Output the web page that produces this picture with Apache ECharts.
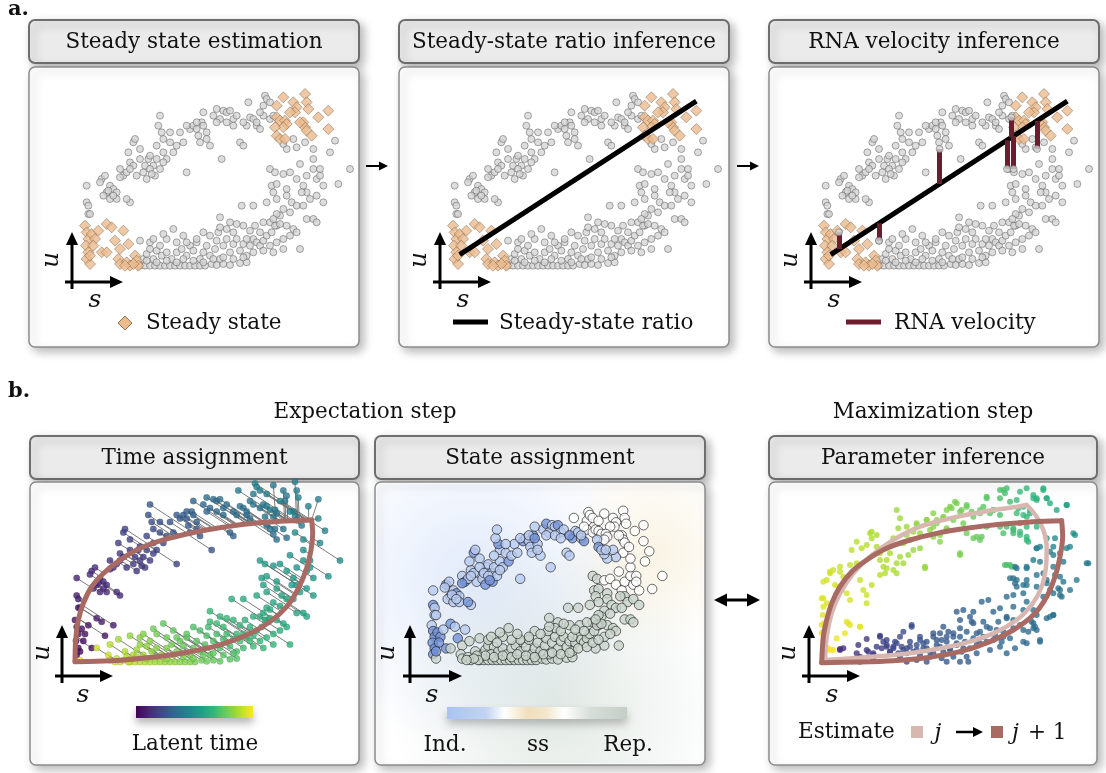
<!DOCTYPE html>
<html><head><meta charset="utf-8">
<script src="https://cdn.jsdelivr.net/npm/echarts@6/dist/echarts.min.js"></script>
<style>html,body{margin:0;padding:0;background:#fff}#c{width:1106px;height:773px}</style>
</head><body><div id="c"></div>
<script>
// ---------------- DATA (s = spliced, u = unspliced; arbitrary units) ----------------
const cloudPoints = [
[17,21],[17.5,20],[17.5,17.5],[18,17.5],[17,26],
[21.5,28],[22.5,29],[24,26],[23,24],[22,23],[25,25],[26,24],[24,22],[26,22],[27,31],[28,29],[29,30],[30,33],[31,32],[29.5,36],[31,39],[31.5,40],[33,37],[32,29],[34,30],[35,28],[35.5,34],[36,35],[37,32],[38,34],[37.5,29],[39,31],[40,36],[41,34],[40,40],[39.5,42],[38.5,44],[39,47],[38,38],[42,39],[43,36],[44,38],[45,42],[46,39],[47,30],[48,43],[49,44],[50,43],[50.5,41],[51,39],[51.5,45],[52,48],[53,42],[54,38],[55,47],[56,49],[57,46],[57.5,34],[58,48.5],[59,48],[60,48.5],[61,46],[62,47],[63,39],[64,38],[65,44],[65.5,51],[66,46.5],[67,46],[68,44],[69,43],[70,50],[70.5,53],[71,52],[70,47],[72,46],[73,47],
[21,27],[23.5,24.5],[25,23],[27,28.5],[30,31],[33,34],[34.5,32],[36,31],[36.5,29.5],[40,33],[42,42],[47,44],[50,45],[52,44],[53,40],[56,45],[59,45],[61,44],[64,45],[68,45],[69,48],[72,51],[30,21],[29,22],
[72,31],[73.5,30],[76,29.5],[78,30],[72.5,26],[74,26.5],[73,24],[77,25],[77,23],[80,28],[81,32.5],[83,29],[82,26],[83,24],[84,22],[86,23],[85,31],[85,34],[87,31],[86,28],[88,26],[88,21],[90,36],[91.5,39.5],[92.5,26.5],[96,31],[82.5,39],[80,37.5],[79,40],[78.5,21],[80,20],[82,20],[83,16],[85,16],[86,15],[76,19],[75,17],[77,14],[79,13],[80,12],[81,7],[76,7],[73,6],[74,14],[72,15],[85,37],[87,29],[81.5,24],[74,22],[78,18],[77,37],[76,38.5],
[33,2],[34.5,2],[36,2],[37.5,2],[39,2],[40.5,2],[42,2],[43.5,2],[45,2],[46.5,2],[48,2],[49.5,2],[51,2],[52.5,2],[54.5,2.5],[56,2.2],[58,2.5],[60,2.2],[63,2.8],[65,3],
[34,4],[35,5.5],[36,7],[38,6.5],[37,4],[39.5,5],[41,6],[42.5,4],[44,6],[45.5,7],[47,5],[48,8],[49,6.5],[50,9],[51,4],[52,6],[53,8],[54,5],[55.5,7],[56,9.5],[57,4],[58,8],[59,10],[60,6],[61,8.5],[62,10],[63,6.5],[64,8.5],[65,5],[66,8],[67,10],[68,9],[69,8],[70,9.5],[71,11],[72.5,12],[73.5,14],[75,14.5],[76,10],[65,10],[64,14],[60,15],[59,13],[57,16.5],[52,12],[50,10],[47,9],[44,9],[41,10],[40,11.5],[43,13],[33,9.5],[36,9],[37,10],[56.5,12],[61,12],[67.5,14],[70,15],[63.5,20],[67,20],[71,21],[74,17.5],
[35,3.5],[38,3],[41,3.5],[44,3],[46,4],[49,3.5],[52,3],[55,4],[58,4.5],[61,4],[64,4.5],[67,6],[70,6.5],[72,8],[74,9],[78,11],[62,14.5],[66,12.5],[54,11],[46,11],[39,8],[57,13.5],[69,12],[73,16]
];
const steadyPoints = [
[16.5,14],[17,12],[17.5,10],[16.8,8],[17.5,6],[17,4],[18,2.5],[18.5,11.5],[19.5,10],[19,8],[20.5,12.5],[23,14.5],[24.5,13.5],[28,12.5],[21.5,6],[23,6],[25.5,9.5],[27,7],[29.5,8.5],[26.5,4],[27,2.5],[29,3],[30,2],[31.5,5],[32,3.5],[32.5,2],[31,2.5],[18,5],[28.5,2],
[76,52.5],[74,50],[79,51],[80,49.5],[82.5,53.5],[83,51],[83.5,49],[79.5,48],[78,48],[74,46.5],[75,45.5],[76.5,45.5],[77,44.5],[76,43.5],[73.5,43.5],[82,45],[82.5,43.5],[83,42.5],[84.5,41],[86.5,46.5],[89.5,48.5],[89.5,43],[74,41],[75,40],[76.5,40],[81,45]
];
const ratioS = [18.5, 89.5];          // extent of steady-state ratio line
const gamma = 0.648, ratioOffset = -6.66;
const velS = [21, 33, 51.2, 71.4, 73.4, 72.7, 80.4];
const velU = [12, 9.5, 37, 31, 31, 46.5, 37];

const b1UpperS = [16.5,16.7,17.5,19,21.5,25,30,36,43,51,59,68,78,87.5];
const b1UpperU = [2.1,8.3,14,18.8,23.5,27.3,31.1,34.5,36.9,38.8,40.2,41.4,42.2,42.6];
const b1LowerS = [16.5,23,31,41,51,60,68,75,80,83.5,86,87.3,87.8,87.5];
const b1LowerU = [2.1,2.2,2.6,3.5,4.95,6.9,9.7,13.5,17.8,23,28.8,34,38.8,42.6];

const b3Points = [
[18.5,28.5],[19,26],[18.8,23.5],[19.2,21],[18.5,18],[19,16],[19.5,14],[20.5,13],[21.5,13],[20,34],[21,36],[22,37],[24,38],[23.5,32],[25,35],[24.5,31],[26,30],[27,28],[26.5,21],[25.5,18],[30,20],[29,39],[30,34],[31,31],[32,27],[33,48],[33.5,46.5],[34,41.5],[35,44],[36,40],[37,38],[37.5,36],[38,40],[39,42],[40,37],[41,39],[42,41],[43,45],[44,50],[45,46],[46,43],[47,51],[48,48],[49.5,37.5],[50,52],[51,49],[52,47],[53,51],[54,45.5],[55,53],[56,49],[57,56],[58,52],[59,57],[60,54.5],[61,51],[60,42],[62,56],[64,53],[65,47],[66,55],[68,50],[69,54],[70,55],[72,50],[73,48],[74,50],[76,49],[78,47.5],[80,46],[77,54],[72,53.5],[56,55],[52,54],[62,48],[66,46],
[68,59],[72,61],[73.5,60],[75,57.5],[79,56],[80,53],[81,54],[82,58.5],[83,58],[85,61],[86,58.5],[87,57],[78,51],[80,50],[76,48],[83,50],
[74,38.5],[75.5,38],[77,37.5],[80,37.5],[82,40],[83,43.5],[84,39.5],[85,36],[86,34],[87,42.5],[88,44],[90,42],[92,56.5],[94,48],[95,34],[98.5,39],[76,34.5],[76.5,33],[77,32],[79,30],[80,34],[83,32],[85,29],[87,31],[88,30],[90,31],[90.5,29],[88,23.5],[87,23],[82,21],[82.5,20],[83,19],[79,25],[76,26],[74,29],[76,22],[90,35],[92,43.5],[93,31],[88,38],[74,23],[72,25.5],[84,16],[80,15],[79,19],
[24,13],[25,13.5],[29,12],[30,11],[32,13],[34,11.5],[35,14],[36,17],[38,16],[39,12.5],[40,14],[41,15],[42,11],[43,13],[44,12],[45,14],[45.5,20],[47,13],[48,11.5],[49,15],[50,13.5],[51,11],[52,12],[53,16],[54,14],[55,20],[56,17],[57,13],[58,11],[59,15],[60,17],[61,13.5],[62,11],[63,23],[64,21],[65,18],[66,15],[67,17],[68,20],[69,13],[70,16],[71,19],[72,14],[73,17],[74,12],[60,22],[61,25],[65,12],[54.5,10.5],[47,10],[44,9.5],[50,9.5],[56,9.5],[60,9.5],[62.5,9.5],[58,18],[52,18],[48,17],[42,17],[38,14],[34,10],[30,9.5],
[24,13.3],[29.5,14.5],[32,16.3],[32.5,12.5],[34,12],[36,17.3],[36.5,13.5],[37,15.5],[38,14.5],[39,12.5],[40,13.5],[40.5,15.5],[41.5,12],[42.5,14],[43,18.5],[44,13.5],[45,15.5],[45.5,20.5],[46,12.5],[47,14.5],[48,16],[49,13.5],[50,15.5],[51,12.5],[52,17],[53,14.5],[54,18],[54.5,16],[55,12.5],[56,15.5],[56.5,18.5],[57,13.5],[58,17],[59,14.5],[60,19.5],[60.5,12.5],[61.5,15.5],[62,18.5],[63,13.5],[63.5,21.5],[64,16.5],[65,14.5],[66,18.5],[66.5,27.5],[67,21.5],[68,15.5],[69,19.5],[70,24.5],[70.5,17.5],[71.5,21.5],[72.5,15.5],[73,18.5],[74,22.5],[75,16.5],[76,19.5],[76.5,13.5],[78,20.5],[79,15.5],[80,27.5],[80.5,18.5],[81.5,21.5],[82,19.5],[83,23.5],[84,15.5],[59,24.5],[64,24.5],[68.5,28],[76,29.5],[79,32.5],[82,25],
[86,22.5],[88,23.5],[90,29.5],[89.5,31.5],[91,33.5],[88.5,35.5],[86,33],[83,35.5],[80,38],[76.5,38],[75,38.5],[73.5,38.5],[75,34.5],[77,34],[80,32.5],[83,43.5],[84,44],[86,46.5],[88,41.5],[88.5,46.5],[91,39.5],[93,44],[94.5,47.5],[98,39],
[92,56.5],[89,55],[86,58.5],[85,61.5],[83,58.5],[82,59.5],[80,61.5],[78,60.5],[77,58],[74,61.5],[73,61],[72,58.5],[70,55],[68,58.5],[67,56],[66,54],[63.5,54.5],[62,56.5],[60.5,55],[58.5,57.5],[57.5,55.5],
[55,52.5],[53,52],[52,50],[50,52],[47,50.5],[46,48.5],[44,47.5],[42,52.5],[41,55],[41.5,49.5],[40,46.5],[38,43.5],[36,42],[35,47.5],[33.5,48.5],[32,44.5],[30.5,43.5],[29,45.5],[27.5,43],[27,38.5],[24,36.5],[22.5,32.5],[21,36.5],[19,33.5],[19,28.5],[20,27],[18.5,20.5],[19,18.5],[20.5,13.5],[22,13],[23,16.5],[26,21.5],[27,20.5],[30,20],[32,29.5],[33.5,32.5],[36,35.5],[38,37.5],[41,36],[43,39],[44.5,41.5],[48,43.5],[49.5,38],[54,47.5],[56,49.5],[60,41.5],[64,46.5],[66.5,47],[76,49.5],[78,48.5],[80,47],[80.5,45.5],[79,53.5],[77.5,55.5],[81,55]
];
const b3BrownUpperS = [18.5,19,20,21.5,24,27.5,32,38,45,53,62,72,82,90.5];
const b3BrownUpperU = [9.2,17,22,27,32,36.5,40,43.5,46,48,49.5,50.7,51.5,51.8];
const b3BrownLowerS = [18.5,30,40,50,60,69,76,82,86,88.5,90,90.8,90.5];
const b3BrownLowerU = [9.2,9.4,9.8,10.7,12.5,15.5,19,23.5,29,35,41,47,51.8];
const b3PinkUpperS = [19.5,20,21.5,24,28,33,40,48,57,67,76,80];
const b3PinkUpperU = [10,17,24,30,36,41,46,50,52.5,54.5,55.8,56.5];
const b3PinkLowerS = [19.5,30,40,50,61,70,77,81.5,84.5,85.8,86,85,83,80];
const b3PinkLowerU = [10,10.7,11.5,12.8,15,18,22,26.5,32,38,44,49,53,56.5];

const titlesTop = ['Steady state estimation','Steady-state ratio inference','RNA velocity inference'];
const titlesBottom = ['Time assignment','State assignment','Parameter inference'];
const legendTop = ['Steady state','Steady-state ratio','RNA velocity'];
const stepLabels = ['Expectation step','Maximization step'];
const stateLabels = ['Ind.','ss','Rep.'];

// ---------------- helpers ----------------
const VIR = ['#440154','#482878','#3e4989','#31688e','#26828e','#1f9e89','#35b779','#6ece58','#b5de2b','#fde725'];
function hex(c){return [parseInt(c.slice(1,3),16),parseInt(c.slice(3,5),16),parseInt(c.slice(5,7),16)];}
function viridis(x){x=Math.max(0,Math.min(1,x));const f=x*(VIR.length-1);const i=Math.min(VIR.length-2,Math.floor(f));const r=f-i;const a=hex(VIR[i]),b=hex(VIR[i+1]);return 'rgb('+a.map((v,k)=>Math.round(v+(b[k]-v)*r)).join(',')+')';}
function lut(t,ts,cs){for(let i=0;i<ts.length-1;i++){if(t<=ts[i+1]){const r=(t-ts[i])/(ts[i+1]-ts[i]);return cs[i]+r*(cs[i+1]-cs[i]);}}return cs[cs.length-1];}
const zip=(S,U)=>S.map((s,i)=>[s,U[i]]);
function buildPath(pts){const cum=[0];for(let i=1;i<pts.length;i++)cum.push(cum[i-1]+Math.hypot(pts[i][0]-pts[i-1][0],pts[i][1]-pts[i-1][1]));return {pts,cum,total:cum[cum.length-1]};}
function assign(p,path,dir){
  const P=path.pts;let best=null,bestAbs=Infinity;
  if(dir){for(let i=0;i<P.length-1;i++){const a=P[i],b=P[i+1];const ex=b[0]-a[0],ey=b[1]-a[1];const den=dir[0]*ey-dir[1]*ex;if(Math.abs(den)<1e-9)continue;const wx=a[0]-p[0],wy=a[1]-p[1];const lam=(wx*ey-wy*ex)/den;const mu=(wx*dir[1]-wy*dir[0])/den;if(mu>=0&&mu<=1&&Math.abs(lam)<bestAbs){bestAbs=Math.abs(lam);const L=path.cum[i+1]-path.cum[i];best={q:[a[0]+mu*ex,a[1]+mu*ey],arc:path.cum[i]+mu*L};}}}
  if(!best){let bd=Infinity;for(let i=0;i<P.length-1;i++){const a=P[i],b=P[i+1];const ex=b[0]-a[0],ey=b[1]-a[1];const l2=ex*ex+ey*ey;let mu=((p[0]-a[0])*ex+(p[1]-a[1])*ey)/l2;mu=Math.max(0,Math.min(1,mu));const q=[a[0]+mu*ex,a[1]+mu*ey];const d=Math.hypot(q[0]-p[0],q[1]-p[1]);if(d<bd){bd=d;best={q,arc:path.cum[i]+mu*(path.cum[i+1]-path.cum[i])};}}}
  best.t=best.arc/path.total;return best;
}

// ---------------- derived ----------------
const bCells = cloudPoints.concat(steadyPoints);
const b1Path = buildPath(zip(b1UpperS,b1UpperU).concat(zip(b1LowerS,b1LowerU).reverse().slice(1)));
const b1Assign = bCells.map(p=>assign(p,b1Path,[1,-0.62]));
const b3Path = buildPath(zip(b3BrownLowerS,b3BrownLowerU).concat(zip(b3BrownUpperS,b3BrownUpperU).reverse().slice(1)));
const b3Assign = b3Points.map(p=>assign(p,b3Path,null));
const b1Col = t=>viridis(lut(t,[0,0.25,0.5,0.75,1],[0,0.22,0.45,0.7,1]));
const b3Col = t=>viridis(lut(t,[0,0.17,0.45,0.52,0.67,0.87,1],[0.1,0.27,0.42,0.62,0.8,0.93,1]));
function stateColor(t,i){ if(t<0.44) return (i%5===0||t<0.06)?'#7392d8':'#b8cbf0'; if(t<0.6) return '#ffffff'; return '#c9d5cc'; }

// ---------------- layout ----------------
const topBoxX=[29,399,769], botBoxX=[30,375,769], botBoxW=[329,330,328];
const aOff=[0,368,739];
const grids=[], xAxes=[], yAxes=[];
aOff.forEach(o=>{grids.push({left:30+o,top:59,width:330,height:290});xAxes.push({min:0,max:99});yAxes.push({min:-23,max:64});});
grids.push({left:20,top:445,width:330,height:304.5});xAxes.push({min:0,max:99});yAxes.push({min:-23,max:64});
grids.push({left:375,top:482,width:330,height:283});xAxes.push({min:-3.05,max:110.7});yAxes.push({min:-34.2,max:63.4});
grids.push({left:760,top:480,width:340,height:290});xAxes.push({min:0,max:102});yAxes.push({min:-23,max:64});
xAxes.forEach((a,i)=>Object.assign(a,{type:'value',gridIndex:i,show:false}));
yAxes.forEach((a,i)=>Object.assign(a,{type:'value',gridIndex:i,show:false}));

const FONT='"DejaVu Serif", serif';
const G=[];
function rbox(x,y,w,h,fill,stroke,lw){G.push({type:'rect',silent:true,z:0,shape:{x,y,width:w,height:h,r:6},style:{fill,stroke,lineWidth:lw,shadowBlur:10,shadowOffsetX:4,shadowOffsetY:4,shadowColor:'rgba(0,0,0,0.28)'}});}
function txt(x,y,text,size,opts){opts=opts||{};G.push({type:'text',silent:true,z:100,x,y,rotation:opts.rot||0,style:{text,x:0,y:0,font:(opts.style||'')+' '+size+'px '+FONT,fill:'#111',textAlign:opts.align||'center',textVerticalAlign:'middle'}});}
function arrow(x1,y1,x2,y2,w,hl,hw){const dx=x2-x1,dy=y2-y1,L=Math.hypot(dx,dy),ux=dx/L,uy=dy/L;const bx=x2-ux*hl,by=y2-uy*hl;G.push({type:'line',silent:true,z:100,shape:{x1,y1,x2:bx+ux,y2:by+uy},style:{stroke:'#000',lineWidth:w}});G.push({type:'polygon',silent:true,z:100,shape:{points:[[x2,y2],[bx-uy*hw/2,by+ux*hw/2],[bx+uy*hw/2,by-ux*hw/2]]},style:{fill:'#000'}});}
function axesGlyph(vx,vTop,vBot,hy,hL,hR,ux,uy,sx,sy){arrow(vx,vBot,vx,vTop,3,13,12);arrow(hL,hy,hR,hy,3,13,12);txt(ux,uy,'u',25,{style:'italic',rot:Math.PI/2});txt(sx,sy,'s',25,{style:'italic'});}

// panel frames
titlesTop.forEach((t,k)=>{rbox(topBoxX[k],20,330,43,'#ebebeb','#6e6e6e',2);rbox(topBoxX[k],67,330,280,'#ffffff','#8c8c8c',1.5);txt(topBoxX[k]+165,42,t,21.5);});
titlesBottom.forEach((t,k)=>{rbox(botBoxX[k],436,botBoxW[k],43,'#ebebeb','#6e6e6e',2);rbox(botBoxX[k],482,botBoxW[k],283,'#ffffff','#8c8c8c',1.5);txt(botBoxX[k]+botBoxW[k]/2,458,t,21.5);});
txt(8,10,'a.',21,{style:'bold',align:'left'});
txt(8,392,'b.',21,{style:'bold',align:'left'});
txt(365,412,stepLabels[0],21.5);
txt(933,412,stepLabels[1],21.5);

// state-assignment soft background glow (clipped to panel interior)
[[0.3,0.35,0.6,'170,196,242',0.35],[0.85,0.25,0.35,'240,222,178',0.35],[0.55,0.8,0.6,'190,206,196',0.45]].forEach(c=>{G.push({type:'rect',silent:true,z:1,shape:{x:377,y:484,width:326,height:279,r:4},style:{fill:{type:'radial',x:c[0],y:c[1],r:c[2],colorStops:[{offset:0,color:'rgba('+c[3]+','+c[4]+')'},{offset:1,color:'rgba('+c[3]+',0)'}]}}});});

// axes glyphs
aOff.forEach(o=>axesGlyph(72+o,232,289,282,65+o,123+o,51+o,260,95+o,300));
axesGlyph(62,625,683,676,55,113,42,653,83,695);
axesGlyph(410,625,683,676,403,462,387,653,432,695);
axesGlyph(809,625,683,676,802,860,788,653,832,695);

// arrows between panels
arrow(366,166,388,166,2,9,9);
arrow(737,166,759,166,2,9,9);
arrow(737,600,714,600,3,13,13);arrow(737,600,760,600,3,13,13);

// top legends
G.push({type:'polygon',silent:true,z:100,shape:{points:[[125,316],[132,323],[125,330],[118,323]]},style:{fill:'#ebbb8e',stroke:'#7a5a3c',lineWidth:0.8}});
txt(146,323,legendTop[0],21.5,{align:'left'});
G.push({type:'line',silent:true,z:100,shape:{x1:453,y1:322,x2:488,y2:322},style:{stroke:'#000',lineWidth:5}});
txt(499,323,legendTop[1],21.5,{align:'left'});
G.push({type:'line',silent:true,z:100,shape:{x1:846,y1:322,x2:881,y2:322},style:{stroke:'#6b1d2d',lineWidth:5}});
txt(894,323,legendTop[2],21.5,{align:'left'});

// colour bars
G.push({type:'rect',silent:true,z:100,shape:{x:136,y:706,width:117,height:12},style:{fill:{type:'linear',x:0,y:0,x2:1,y2:0,colorStops:VIR.map((c,i)=>({offset:i/(VIR.length-1),color:c}))},shadowBlur:8,shadowOffsetY:5,shadowColor:'rgba(0,0,0,0.3)'}});
txt(195,744,'Latent time',21.5);
G.push({type:'rect',silent:true,z:100,shape:{x:447,y:707,width:180,height:12},style:{fill:{type:'linear',x:0,y:0,x2:1,y2:0,colorStops:[{offset:0,color:'#a9c3f2'},{offset:0.22,color:'#c3d4f2'},{offset:0.32,color:'#ffffff'},{offset:0.45,color:'#f1dfbc'},{offset:0.55,color:'#f3e6cc'},{offset:0.65,color:'#ffffff'},{offset:0.8,color:'#d6ddd7'},{offset:1,color:'#c3cec6'}]},shadowBlur:8,shadowOffsetY:5,shadowColor:'rgba(0,0,0,0.25)'}});
txt(445,745,stateLabels[0],21.5);txt(538,745,stateLabels[1],21.5);txt(628,745,stateLabels[2],21.5);

// parameter-inference legend
txt(798,732,'Estimate',21.5,{align:'left'});
G.push({type:'rect',silent:true,z:100,shape:{x:911,y:726,width:12,height:12},style:{fill:'#d8b7b0'}});
txt(938,733,'j',22,{style:'italic'});
arrow(956,732,983,732,2.5,10,10);
G.push({type:'rect',silent:true,z:100,shape:{x:991,y:726,width:12,height:12},style:{fill:'#a86a62'}});
txt(1012,733,'j',22,{style:'italic',align:'left'});
txt(1028,733,'+ 1',21.5,{align:'left'});

// ---------------- series ----------------
const S=[];
const grayStyle={color:'#d4d4d4',borderColor:'#4d4d4d',borderWidth:0.6};
const diaStyle={color:'#ebbb8e',borderColor:'#7a5a3c',borderWidth:0.6};
for(let k=0;k<3;k++){
  S.push({type:'scatter',xAxisIndex:k,yAxisIndex:k,data:cloudPoints,symbolSize:7,itemStyle:grayStyle,z:2,silent:true});
  S.push({type:'scatter',xAxisIndex:k,yAxisIndex:k,data:steadyPoints,symbol:'diamond',symbolSize:11,itemStyle:diaStyle,z:3,silent:true});
  if(k>=1) S.push({type:'line',xAxisIndex:k,yAxisIndex:k,data:ratioS.map(s=>[s,gamma*s+ratioOffset]),symbol:'none',lineStyle:{color:'#000',width:5},z:4,silent:true});
}
S.push({type:'lines',coordinateSystem:'cartesian2d',xAxisIndex:2,yAxisIndex:2,data:velS.map((s,i)=>({coords:[[s,velU[i]],[s,gamma*s+ratioOffset]]})),lineStyle:{color:'#6b1d2d',width:5,opacity:1},z:5,silent:true});
S.push({type:'scatter',xAxisIndex:2,yAxisIndex:2,data:zip(velS,velU),symbolSize:7,itemStyle:grayStyle,z:6,silent:true});

// time assignment
S.push({type:'lines',coordinateSystem:'cartesian2d',xAxisIndex:3,yAxisIndex:3,data:bCells.map((p,i)=>({coords:[p,b1Assign[i].q]})),lineStyle:{color:'#6f6f6f',width:1,opacity:0.9},z:2,silent:true});
S.push({type:'scatter',xAxisIndex:3,yAxisIndex:3,data:bCells.map((p,i)=>({value:p,itemStyle:{color:b1Col(b1Assign[i].t)}})),symbolSize:6.5,itemStyle:{borderColor:'rgba(0,0,0,0.25)',borderWidth:0.5},z:3,silent:true});
[[b1UpperS,b1UpperU],[b1LowerS,b1LowerU]].forEach(c=>S.push({type:'line',xAxisIndex:3,yAxisIndex:3,data:zip(c[0],c[1]),smooth:0.3,symbol:'none',lineStyle:{color:'#a86a62',width:5,cap:'round',join:'round'},z:4,silent:true}));

// state assignment
S.push({type:'scatter',xAxisIndex:4,yAxisIndex:4,data:bCells.map((p,i)=>({value:p,itemStyle:{color:stateColor(b1Assign[i].t,i)}})),symbolSize:9.5,itemStyle:{borderColor:'#1a1a1a',borderWidth:0.8},z:3,silent:true});

// parameter inference
S.push({type:'scatter',xAxisIndex:5,yAxisIndex:5,data:b3Points.map((p,i)=>({value:p,itemStyle:{color:b3Col(b3Assign[i].t)}})),symbolSize:6,z:2,silent:true});
[[b3PinkUpperS,b3PinkUpperU],[b3PinkLowerS,b3PinkLowerU]].forEach(c=>S.push({type:'line',xAxisIndex:5,yAxisIndex:5,data:zip(c[0],c[1]),smooth:0.3,symbol:'none',lineStyle:{color:'#d8b7b0',width:4.5,cap:'round',join:'round'},z:3,silent:true}));
[[b3BrownUpperS,b3BrownUpperU],[b3BrownLowerS,b3BrownLowerU]].forEach(c=>S.push({type:'line',xAxisIndex:5,yAxisIndex:5,data:zip(c[0],c[1]),smooth:0.3,symbol:'none',lineStyle:{color:'#a86a62',width:5,cap:'round',join:'round'},z:4,silent:true}));

const chart=echarts.init(document.getElementById('c'),null,{renderer:'canvas'});
chart.setOption({animation:false,backgroundColor:'#ffffff',grid:grids,xAxis:xAxes,yAxis:yAxes,graphic:{elements:G},series:S});
</script></body></html>
